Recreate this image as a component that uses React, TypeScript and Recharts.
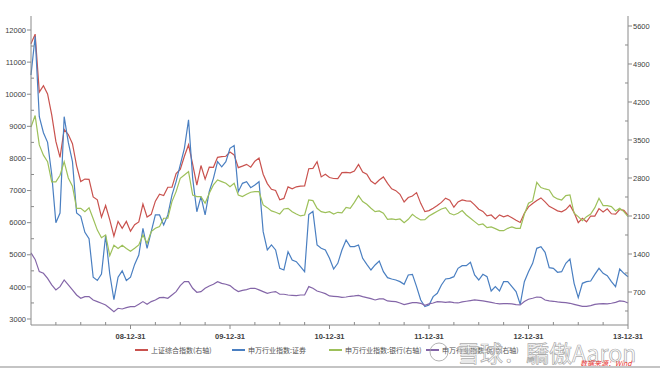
import { LineChart, Line, XAxis, YAxis, Legend } from "recharts";

// half-month steps, 0 = 2008-01-01, 72 = 2013-12-31
const months = Array.from({ length: 145 }, (_, i) => i / 2);

// 上证综合指数 (right axis)
const sse = [
  5272, 5450, 4383, 4500, 4348, 3962, 3473, 3180, 3693, 3600, 3433, 3024, 2736, 2780, 2775, 2450, 2397, 2080, 2293, 2030, 1729, 2000, 1871, 2000, 1821,
  1940, 1990, 2320, 2082, 2130, 2373, 2500, 2477, 2630, 2632, 2880, 2959, 3200, 3412, 3050, 2667, 3030, 2779, 3000, 2996, 3180, 3195, 3200, 3277,
  3225, 2990, 3018, 3051, 3000, 3109, 3166, 2870, 2697, 2592, 2570, 2398, 2424, 2637, 2600, 2638, 2650, 2655, 2971, 2978, 3100, 2820, 2870, 2808,
  2791, 2790, 2900, 2905, 2896, 2928, 3050, 2911, 2870, 2743, 2690, 2762, 2820, 2701, 2600, 2567, 2500, 2359, 2440, 2468, 2530, 2333, 2180, 2199,
  2244, 2292, 2350, 2428, 2391, 2262, 2360, 2396, 2380, 2373, 2306, 2225, 2185, 2103, 2118, 2047, 2120, 2086, 2110, 2069, 2020, 1980, 2150, 2269,
  2330, 2385, 2433, 2359, 2278, 2237, 2194, 2177, 2218, 2300, 2162, 1979, 2059, 1994, 2100, 2098, 2236, 2175, 2233, 2141, 2136, 2220, 2205, 2116,
];

// 申万行业指数:证券 (left axis)
const securities = [
  10600, 11800, 9300, 8800, 8500, 7500, 6000, 6300, 9300, 8500, 7900, 6300, 6200, 5700, 5500, 4300, 4200, 4400, 5600, 4400, 3600, 4300, 4500, 4200, 4300,
  4700, 4990, 5820, 5200, 5720, 6240, 6240, 5930, 6240, 6860, 7280, 7800, 8315, 9200, 7380, 6340, 6810, 6240, 6970, 7380, 7900, 7740, 7900, 8315,
  8400, 6965, 7225, 7277, 7090, 7173, 7277, 5720, 5150, 5305, 5150, 4578, 4526, 5097, 4838, 4786, 4630, 4474, 6250, 6350, 5305, 5201, 5150, 4890,
  4557, 4734, 5150, 5460, 5253, 5253, 5305, 4890, 4703, 4526, 4682, 4807, 4474, 4287, 4246, 4215, 4163, 4080, 4370, 4391, 4007, 3592, 3385, 3436,
  3696, 3800, 4060, 4246, 4267, 4318, 4578, 4661, 4661, 4765, 4370, 4215, 4391, 4318, 3872, 4007, 3872, 4163, 4163, 4007, 3852, 3457, 4163, 4474,
  4734, 5201, 5253, 5077, 4599, 4578, 4454, 4474, 4734, 4869, 4111, 3665, 4111, 4163, 4184, 4391, 4578, 4422, 4350, 4163, 4007, 4557, 4422, 4318,
];

// 申万行业指数:银行 (right axis)
const banks = [
  3740, 3950, 3410, 3220, 3100, 2730, 2730, 2850, 3100, 2800, 2650, 2240, 2240, 2180, 2250, 2050, 1840, 1700, 1750, 1370, 1560, 1500, 1560, 1500, 1450,
  1505, 1567, 1750, 1597, 1812, 1873, 1904, 2058, 2058, 2365, 2549, 2795, 2856, 2917, 2487, 2457, 2457, 2334, 2518, 2672, 2764, 2733, 2702, 2641,
  2702, 2487, 2457, 2500, 2537, 2549, 2549, 2303, 2254, 2193, 2168, 2137, 2230, 2242, 2180, 2137, 2101, 2119, 2395, 2383, 2242, 2180, 2162, 2180,
  2137, 2168, 2156, 2260, 2242, 2352, 2475, 2365, 2316, 2242, 2180, 2193, 2150, 2039, 2045, 2033, 2045, 1978, 2039, 2131, 2070, 2027, 2033, 2101,
  2144, 2187, 2229, 2254, 2150, 2119, 2150, 2199, 2119, 2058, 1996, 1935, 1953, 1886, 1898, 1867, 1830, 1830, 1873, 1898, 1873, 1873, 2131, 2334,
  2377, 2720, 2623, 2598, 2580, 2457, 2414, 2395, 2475, 2487, 2150, 2088, 2015, 2088, 2137, 2254, 2426, 2291, 2291, 2272, 2193, 2242, 2180, 2088,
];

// 申万行业指数:保险 (right axis)
const insurance = [
  1420, 1300, 1075, 1045, 952, 830, 738, 799, 922, 830, 738, 645, 584, 615, 615, 553, 523, 492, 461, 400, 338, 400, 387, 412, 430,
  430, 473, 523, 473, 523, 553, 596, 602, 584, 645, 707, 817, 891, 891, 768, 695, 707, 768, 811, 842, 891, 860, 842, 817,
  756, 707, 731, 744, 768, 768, 738, 707, 676, 695, 707, 658, 658, 645, 639, 633, 645, 645, 799, 768, 719, 695, 670, 627,
  621, 615, 602, 608, 621, 627, 639, 615, 596, 578, 553, 572, 572, 535, 529, 523, 498, 467, 486, 504, 504, 492, 455, 480,
  498, 523, 517, 510, 517, 504, 498, 517, 529, 541, 553, 547, 535, 523, 510, 492, 480, 486, 486, 480, 467, 461, 523, 566,
  584, 608, 602, 553, 535, 529, 517, 510, 504, 492, 473, 455, 436, 436, 449, 473, 480, 486, 480, 492, 510, 535, 529, 498,
];

const seriesKeys = ["sse", "sec", "bank", "ins"];
const seriesNames = ["上证综合指数(右轴)", "申万行业指数:证券", "申万行业指数:银行(右轴)", "申万行业指数:保险(右轴)"];
const seriesColors = ["#C9524E", "#4A7FC1", "#9DC05A", "#8466A8"];
const seriesAxis = ["right", "left", "right", "right"];

const xLabelTicks = [12, 24, 36, 48, 60, 72];
const xLabels = ["08-12-31", "09-12-31", "10-12-31", "11-12-31", "12-12-31", "13-12-31"];
const xQuarterTicks = [3, 6, 9, 12, 15, 18, 21, 24, 27, 30, 33, 36, 39, 42, 45, 48, 51, 54, 57, 60, 63, 66, 69, 72];

const leftTicks = [3000, 4000, 5000, 6000, 7000, 8000, 9000, 10000, 11000, 12000];
const rightTicks = [700, 1400, 2100, 2800, 3500, 4200, 4900, 5600];
const leftAllTicks = [...leftTicks, ...leftTicks.slice(0, -1).map((v) => v + 500)].sort((a, b) => a - b);
const rightAllTicks = [350, ...rightTicks, ...rightTicks.slice(0, -1).map((v) => v + 350)].sort((a, b) => a - b);

const data = months.map((m, i) => ({
  m,
  sse: sse[i],
  sec: securities[i],
  bank: banks[i],
  ins: insurance[i],
}));

const AXIS = "#8a8a8a";
const tickText = {
  fontFamily: "'Liberation Sans', Arial, sans-serif",
  fontSize: 7.5,
  fill: "#404040",
};

function LeftTick({ x, y, payload }: any) {
  const ax = x + 5;
  if (!leftTicks.includes(payload.value)) {
    return <line x1={ax} x2={ax + 3} y1={y} y2={y} stroke={AXIS} />;
  }
  return (
    <g>
      <line x1={ax - 4} x2={ax} y1={y} y2={y} stroke={AXIS} />
      <text x={x} y={y} dy={2.7} textAnchor="end" {...tickText}>
        {payload.value}
      </text>
    </g>
  );
}

function RightTick({ x, y, payload }: any) {
  const ax = x - 5;
  if (!rightTicks.includes(payload.value)) {
    return <line x1={ax - 3} x2={ax} y1={y} y2={y} stroke={AXIS} />;
  }
  return (
    <g>
      <line x1={ax} x2={ax + 4} y1={y} y2={y} stroke={AXIS} />
      <text x={x} y={y} dy={2.7} textAnchor="start" {...tickText}>
        {payload.value}
      </text>
    </g>
  );
}

function BottomTick({ x, y, payload }: any) {
  const ay = y - 7;
  const idx = xLabelTicks.indexOf(payload.value);
  if (idx < 0) {
    return <line x1={x} x2={x} y1={ay - 3} y2={ay} stroke={AXIS} />;
  }
  return (
    <g>
      <line x1={x} x2={x} y1={ay} y2={ay + 4} stroke={AXIS} />
      <text x={x} y={y} dy={6.5} textAnchor="middle" {...tickText} fontWeight="bold">
        {xLabels[idx]}
      </text>
    </g>
  );
}

const renderLegend = () => (
  <div
    style={{
      position: "relative",
      height: 12,
      fontFamily: "'Noto Sans CJK SC', sans-serif",
      fontSize: 7,
      color: "#505050",
    }}
  >
    {seriesNames.map((name, i) => (
      <div
        key={name}
        style={{
          position: "absolute",
          left: 135 + i * 97,
          top: 0,
          height: 12,
          display: "flex",
          alignItems: "center",
          whiteSpace: "nowrap",
        }}
      >
        <span style={{ display: "inline-block", width: 13, height: 1.5, background: seriesColors[i], marginRight: 3 }} />
        {name}
      </div>
    ))}
  </div>
);

export default function App() {
  return (
    <div style={{ position: "absolute", left: 0, top: 0, width: 660, height: 368, background: "#fff" }}>
      <LineChart width={660} height={368} data={data} margin={{ top: 16, right: 0, bottom: 23, left: 0 }}>
        <XAxis
          dataKey="m"
          type="number"
          domain={[0, 72]}
          ticks={xQuarterTicks}
          interval={0}
          height={20}
          tickSize={4}
          tickMargin={3}
          tickLine={false}
          axisLine={{ stroke: AXIS }}
          tick={<BottomTick />}
        />
        <YAxis
          yAxisId="left"
          orientation="left"
          width={31}
          domain={[2813, 12436]}
          allowDataOverflow
          ticks={leftAllTicks}
          interval={0}
          tickSize={4}
          tickMargin={1}
          tickLine={false}
          axisLine={{ stroke: AXIS }}
          tick={<LeftTick />}
        />
        <YAxis
          yAxisId="right"
          orientation="right"
          width={32}
          domain={[92, 5784]}
          allowDataOverflow
          ticks={rightAllTicks}
          interval={0}
          tickSize={4}
          tickMargin={1}
          tickLine={false}
          axisLine={{ stroke: AXIS }}
          tick={<RightTick />}
        />
        {seriesKeys.map((key, i) => (
          <Line
            key={key}
            yAxisId={seriesAxis[i]}
            type="linear"
            dataKey={key}
            name={seriesNames[i]}
            stroke={seriesColors[i]}
            strokeWidth={1.2}
            dot={false}
            isAnimationActive={false}
          />
        ))}
        <Legend content={renderLegend} verticalAlign="middle" wrapperStyle={{ top: 344, left: 0, width: 660 }} />
      </LineChart>
      <svg
        width={660}
        height={368}
        style={{ position: "absolute", left: 0, top: 0, pointerEvents: "none" }}
      >
        <circle cx={439} cy={352} r={9} fill="none" stroke="#a0a0a0" strokeWidth={1} opacity={0.8} />
        <text
          x={457}
          y={362}
          fontFamily="'Noto Sans CJK SC', sans-serif"
          fontSize={23}
          fill="#ffffff"
          fillOpacity={0.7}
          stroke="#9a9a9a"
          strokeWidth={0.7}
          strokeOpacity={0.85}
        >
          雪球：驕傲Aaron
        </text>
        <text
          x={580}
          y={366}
          fontFamily="'Noto Sans CJK SC', sans-serif"
          fontSize={7}
          fontStyle="italic"
          fill="#e8322f"
        >
          数据来源：Wind
        </text>
      </svg>
      <div style={{ position: "absolute", left: 0, top: 366, width: 660, height: 2, background: "#c4c4c4" }} />
    </div>
  );
}
